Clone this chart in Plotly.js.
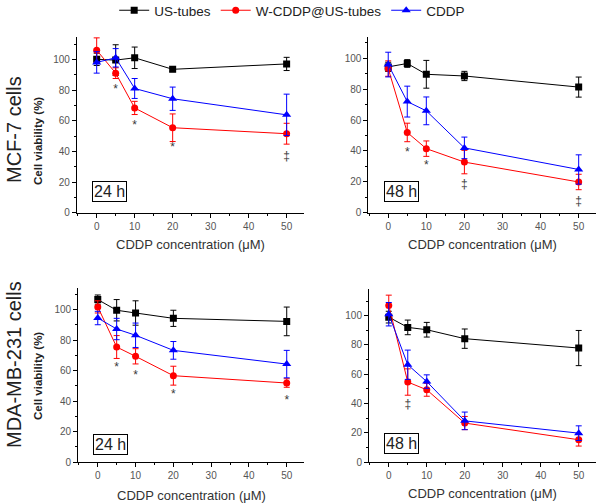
<!DOCTYPE html>
<html>
<head>
<meta charset="utf-8">
<script src="https://cdn.plot.ly/plotly-3.0.1.min.js"></script>
<style>
  body { margin: 0; background: #fff; }
  #plot { width: 601px; height: 504px; }
</style>
</head>
<body>
<div id="plot"></div>
<script>
// concentrations (uM)
const conc = [0, 5, 10, 20, 50];

// MCF-7, 24 h
const mcf24Tubes = [100, 99.5, 101, 93.5, 97];
const mcf24TubesErr = [4, 10, 7, 1.5, 4.3];
const mcf24Wcddp = [106, 91, 68.3, 55.4, 51.5];
const mcf24WcddpErr = [8, 3.5, 4.3, 9, 6.8];
const mcf24Cddp = [98, 101, 81, 74.3, 63.8];
const mcf24CddpErr = [7, 6, 6.5, 7.6, 13.5];

// MCF-7, 48 h
const mcf48Tubes = [94.5, 96.7, 89.7, 88.6, 81.4];
const mcf48TubesErr = [3, 2.5, 9, 3, 6.5];
const mcf48Wcddp = [93.4, 52, 41.5, 32.8, 19.9];
const mcf48WcddpErr = [5, 6, 5, 7.6, 5];
const mcf48Cddp = [96, 72, 66, 42, 28];
const mcf48CddpErr = [8, 10, 9, 7, 9.5];

// MDA-MB-231, 24 h
const mda24Tubes = [106.6, 99.6, 97.8, 94.3, 92.3];
const mda24TubesErr = [3, 7, 8, 5.3, 9.4];
const mda24Wcddp = [101.8, 75.5, 69.4, 56.7, 51.9];
const mda24WcddpErr = [4, 7.5, 5, 6.2, 2.8];
const mda24Cddp = [94.5, 87.3, 83.2, 73.3, 64.3];
const mda24CddpErr = [4.4, 7, 8, 5.8, 9];

// MDA-MB-231, 48 h
const mda48Tubes = [99, 92, 90.4, 84.3, 77.9];
const mda48TubesErr = [4, 5, 5, 6.6, 12];
const mda48Wcddp = [107, 54.7, 49.4, 26.7, 15.3];
const mda48WcddpErr = [7, 9, 4.4, 4.5, 4.3];
const mda48Cddp = [101, 66.5, 55, 28.2, 19.8];
const mda48CddpErr = [8, 10, 4.6, 6, 5];

// significance marks
const mcf24MarkX = [5, 10, 20, 50], mcf24MarkY = [80, 56.5, 42, 36.5], mcf24MarkText = ['*', '*', '*', '‡'];
const mcf48MarkX = [5, 10, 20, 50], mcf48MarkY = [39, 30, 17.7, 7], mcf48MarkText = ['*', '*', '‡', '‡'];
const mda24MarkX = [5, 10, 20, 50], mda24MarkY = [61.7, 56.2, 43.8, 39.8], mda24MarkText = ['*', '*', '*', '*'];
const mda48MarkX = [5], mda48MarkY = [39.2], mda48MarkText = ['‡'];

const seriesNames = ['US-tubes', 'W-CDDP@US-tubes', 'CDDP'];
const colors = ['#000000', '#ff0000', '#0000ff'];
const symbols = ['square', 'circle', 'triangle-up'];
const sizes = [7, 7, 8];

const panels = [
  {xa: 'x', ya: 'y', sets: [[mcf24Tubes, mcf24TubesErr], [mcf24Wcddp, mcf24WcddpErr], [mcf24Cddp, mcf24CddpErr]], mx: mcf24MarkX, my: mcf24MarkY, mt: mcf24MarkText},
  {xa: 'x2', ya: 'y2', sets: [[mcf48Tubes, mcf48TubesErr], [mcf48Wcddp, mcf48WcddpErr], [mcf48Cddp, mcf48CddpErr]], mx: mcf48MarkX, my: mcf48MarkY, mt: mcf48MarkText},
  {xa: 'x3', ya: 'y3', sets: [[mda24Tubes, mda24TubesErr], [mda24Wcddp, mda24WcddpErr], [mda24Cddp, mda24CddpErr]], mx: mda24MarkX, my: mda24MarkY, mt: mda24MarkText},
  {xa: 'x4', ya: 'y4', sets: [[mda48Tubes, mda48TubesErr], [mda48Wcddp, mda48WcddpErr], [mda48Cddp, mda48CddpErr]], mx: mda48MarkX, my: mda48MarkY, mt: mda48MarkText}
];

let data = [];
panels.forEach(function (p, pi) {
  // significance marks first, so the series draw over them
  data.push({
    x: p.mx, y: p.my, text: p.mt, mode: 'text', type: 'scatter',
    xaxis: p.xa, yaxis: p.ya, showlegend: false, hoverinfo: 'skip',
    textfont: {family: 'Arial, Liberation Sans', size: 12, color: '#3a3a3a'}
  });
  p.sets.forEach(function (s, si) {
    data.push({
      x: conc, y: s[0],
      error_y: {type: 'data', array: s[1], visible: true, color: colors[si], thickness: 1, width: 3},
      xaxis: p.xa, yaxis: p.ya,
      mode: 'lines+markers', type: 'scatter',
      name: seriesNames[si], legendgroup: seriesNames[si],
      showlegend: pi === 0,
      line: {color: colors[si], width: 1},
      marker: {color: colors[si], symbol: symbols[si], size: sizes[si]}
    });
  });
});

function xAxis(domain, anchor) {
  return {
    domain: domain, anchor: anchor, range: [-5.2, 54.6],
    tick0: 0, dtick: 10, ticks: 'outside', ticklen: 4, tickcolor: '#000',
    showline: true, linecolor: '#000', linewidth: 1, showgrid: false, zeroline: false,
    tickfont: {size: 10, color: '#555'},
    minor: {ticks: 'outside', ticklen: 2, tick0: 0, dtick: 5, tickcolor: '#000'}
  };
}
function yAxis(domain, anchor, top) {
  return {
    domain: domain, anchor: anchor, range: [0, top],
    tick0: 0, dtick: 20, ticks: 'outside', ticklen: 4, tickcolor: '#000',
    showline: true, linecolor: '#000', linewidth: 1, showgrid: false, zeroline: false,
    tickfont: {size: 10, color: '#555'},
    minor: {ticks: 'outside', ticklen: 2, tick0: 0, dtick: 10, tickcolor: '#000'}
  };
}

const txt = {family: 'Arial, Liberation Sans', color: '#222'};
function note(text, x, y, size, extra) {
  return Object.assign({
    text: text, xref: 'paper', yref: 'paper', x: x / 601, y: 1 - y / 504,
    showarrow: false, font: Object.assign({}, txt, {size: size}), xanchor: 'center', yanchor: 'middle'
  }, extra || {});
}

const xTitle = 'CDDP concentration (μM)';
const xTitleFont = Object.assign({}, txt, {size: 13, color: '#333'});
const boxStyle = {bordercolor: '#000', borderwidth: 1, borderpad: 1, bgcolor: '#fff'};

let layout = {
  width: 601, height: 504,
  margin: {l: 0, r: 0, t: 0, b: 0, autoexpand: false},
  paper_bgcolor: '#fff', plot_bgcolor: 'rgba(0,0,0,0)',
  font: {family: 'Arial, Liberation Sans', color: '#222'},
  showlegend: true,
  legend: {orientation: 'h', x: 0.19, y: 1.01, xanchor: 'left', yanchor: 'top',
           font: {size: 13.5, color: '#222'}, itemwidth: 30, tracegroupgap: 0},
  xaxis: xAxis([0.128, 0.506], 'y'),
  yaxis: yAxis([0.578, 0.927], 'x', 114.7),
  xaxis2: xAxis([0.613, 0.992], 'y2'),
  yaxis2: yAxis([0.578, 0.927], 'x2', 114),
  xaxis3: xAxis([0.130, 0.506], 'y3'),
  yaxis3: yAxis([0.083, 0.428], 'x3', 114),
  xaxis4: xAxis([0.614, 0.992], 'y4'),
  yaxis4: yAxis([0.083, 0.426], 'x4', 118),
  annotations: [
    note('MCF-7 cells', 14, 130, 20, {textangle: -90}),
    note('MDA-MB-231 cells', 14, 365, 20, {textangle: -90}),
    note('<b>Cell viability (%)</b>', 38, 141, 11.5, {textangle: -90}),
    note('<b>Cell viability (%)</b>', 38, 376, 11.5, {textangle: -90}),
    note(xTitle, 190, 244, 13, {font: xTitleFont}),
    note(xTitle, 482, 244, 13, {font: xTitleFont}),
    note(xTitle, 191, 495, 13, {font: xTitleFont}),
    note(xTitle, 482, 493, 13, {font: xTitleFont}),
    note('24 h', 109, 191.5, 16, boxStyle),
    note('48 h', 401.5, 191.7, 16, boxStyle),
    note('24 h', 110, 444, 16, boxStyle),
    note('48 h', 401.5, 443.5, 16, boxStyle)
  ]
};

Plotly.newPlot('plot', data, layout, {staticPlot: true});
</script>
</body>
</html>
